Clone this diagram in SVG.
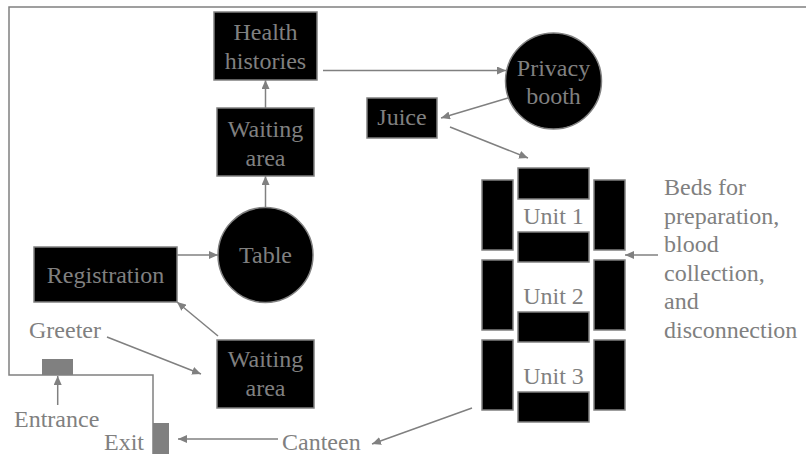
<svg xmlns="http://www.w3.org/2000/svg" width="806" height="454" viewBox="0 0 806 454" font-family="Liberation Serif, Times New Roman, serif">
<defs>
<style>
.box{fill:#000;stroke:#808080;stroke-width:1.5}
.wall{fill:none;stroke:#808080;stroke-width:1.5}
.door{fill:#808080}
.t{font-size:24px;fill:#808080}
.c{text-anchor:middle}
.con line{stroke:#808080;stroke-width:1.5;marker-end:url(#ah)}
</style>
<marker id="ah" markerUnits="userSpaceOnUse" markerWidth="10" markerHeight="8" refX="9" refY="4" orient="auto">
<path d="M0,0 L9,4 L0,8 Z" fill="#808080"/>
</marker>
</defs>
<rect width="806" height="454" fill="#fff"/>
<polyline class="wall" points="806,7 9,7 9,375 153,375 153,454"/>
<g id="entrance"><rect class="door" x="42" y="359" width="31" height="16"/><text class="t" font-family="Liberation Serif, serif" x="14" y="427">Entrance</text></g>
<g id="exit"><rect class="door" x="153" y="423" width="16" height="31"/><text class="t" x="104" y="450">Exit</text></g>
<g id="greeter"><text class="t" x="29" y="338">Greeter</text></g>
<g id="registration"><rect class="box" x="34" y="247" width="143" height="55"/><text class="t c" x="105.5" y="283">Registration</text></g>
<g id="table"><circle class="box" cx="265.5" cy="255" r="47.5"/><text class="t c" x="265.5" y="263">Table</text></g>
<g id="waiting1"><rect class="box" x="217" y="340" width="97" height="68"/><text class="t c" x="265.5" y="367">Waiting</text><text class="t c" x="265.5" y="396">area</text></g>
<g id="waiting2"><rect class="box" x="217" y="108" width="97" height="68"/><text class="t c" x="265.5" y="137">Waiting</text><text class="t c" x="265.5" y="166">area</text></g>
<g id="health"><rect class="box" x="214" y="12" width="103" height="68"/><text class="t c" x="265.5" y="40">Health</text><text class="t c" x="265.5" y="69">histories</text></g>
<g id="privacy"><circle class="box" cx="553.5" cy="81" r="48"/><text class="t c" x="553.5" y="76">Privacy</text><text class="t c" x="553.5" y="104">booth</text></g>
<g id="juice"><rect class="box" x="367" y="98" width="70" height="40"/><text class="t c" x="402" y="125">Juice</text></g>
<g id="units">
<rect class="box" x="518" y="168" width="71" height="31"/>
<rect class="box" x="518" y="232" width="71" height="30"/>
<rect class="box" x="518" y="312" width="71" height="30"/>
<rect class="box" x="518" y="392" width="71" height="30"/>
<rect class="box" x="482" y="180" width="31" height="70"/>
<rect class="box" x="482" y="260" width="31" height="70"/>
<rect class="box" x="482" y="340" width="31" height="70"/>
<rect class="box" x="594" y="180" width="31" height="70"/>
<rect class="box" x="594" y="260" width="31" height="70"/>
<rect class="box" x="594" y="340" width="31" height="70"/>
<text class="t c" x="553.5" y="224">Unit 1</text>
<text class="t c" x="553.5" y="304">Unit 2</text>
<text class="t c" x="553.5" y="384">Unit 3</text>
</g>
<g id="beds-label"><text class="t" x="664" y="195">Beds for</text><text class="t" x="664" y="224">preparation,</text><text class="t" x="664" y="252">blood</text><text class="t" x="664" y="281">collection,</text><text class="t" x="664" y="309">and</text><text class="t" x="664" y="338">disconnection</text></g>
<g id="canteen"><text class="t" x="282" y="450">Canteen</text></g>
<g class="con" id="connectors">
<line x1="177" y1="255" x2="218" y2="255"/>
<line x1="265.5" y1="207" x2="265.5" y2="176"/>
<line x1="265.5" y1="108" x2="265.5" y2="80"/>
<line x1="323" y1="70.5" x2="506" y2="70.5"/>
<line x1="508" y1="98" x2="441" y2="118"/>
<line x1="450" y1="127" x2="528" y2="158"/>
<line x1="658" y1="255" x2="625" y2="255"/>
<line x1="472" y1="408" x2="372" y2="444"/>
<line x1="278" y1="439" x2="178" y2="439"/>
<line x1="107" y1="337" x2="201" y2="374"/>
<line x1="218" y1="336" x2="177" y2="302"/>
<line x1="57.7" y1="405" x2="57.7" y2="376"/>
</g>
</svg>
